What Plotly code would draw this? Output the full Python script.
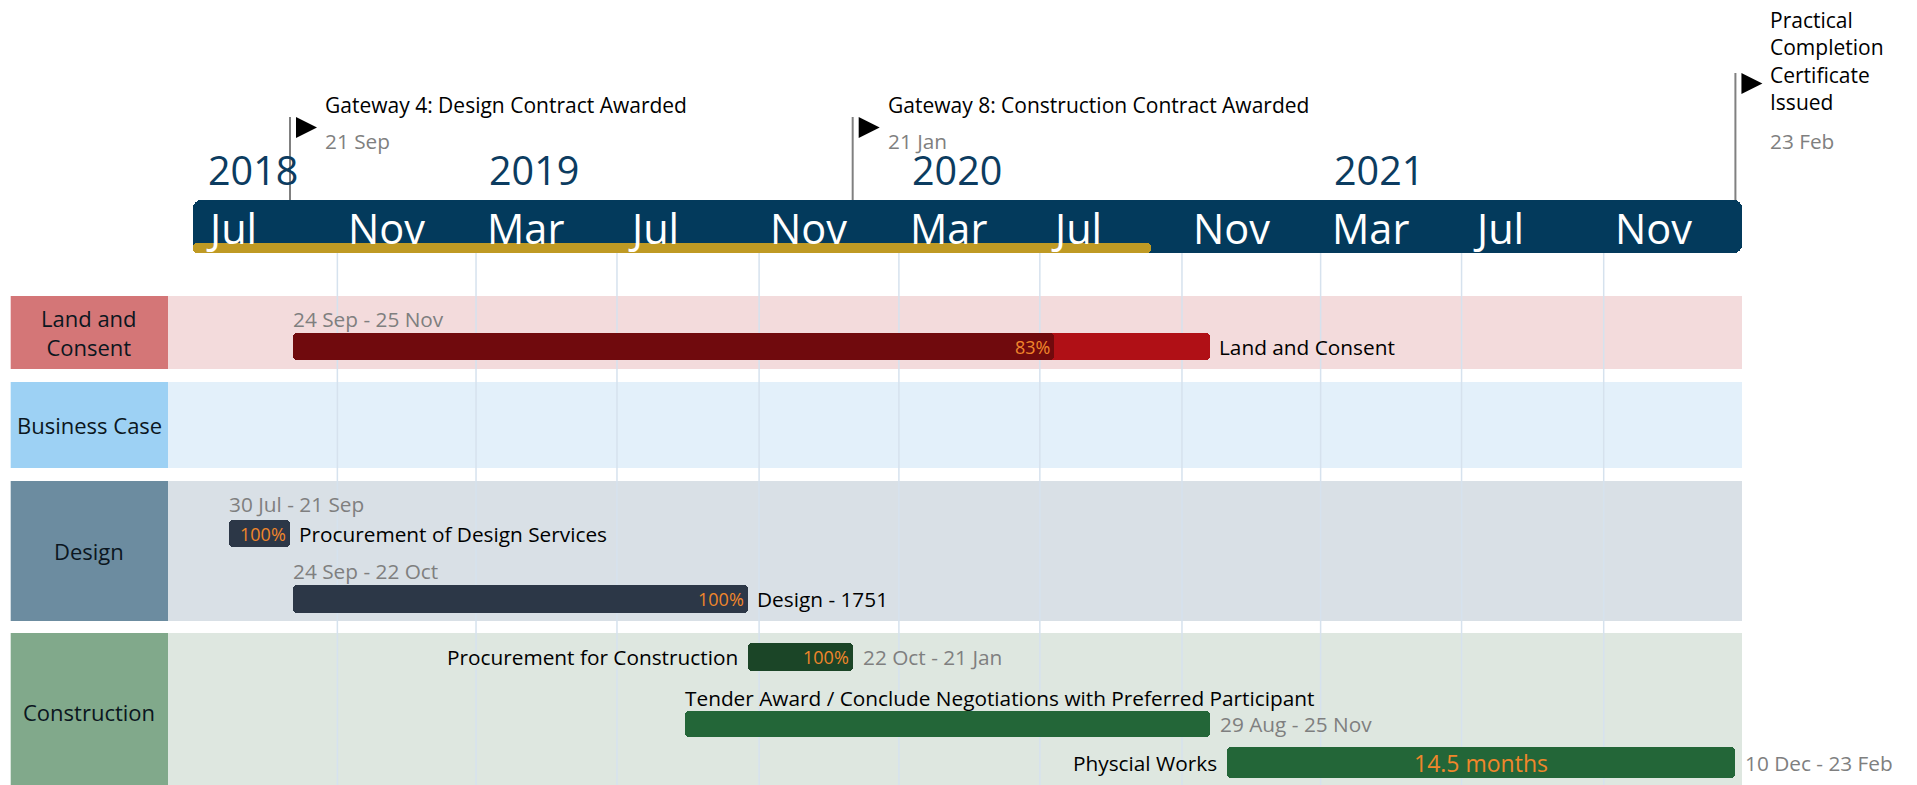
import pandas as pd
import plotly.graph_objects as go

# ---------------- data ----------------
lane_names = ["Land and Consent", "Business Case", "Design", "Construction"]
lane_labels = ["Land and<br>Consent", "Business Case", "Design", "Construction"]

task_names = [
    "Land and Consent",
    "Procurement of Design Services",
    "Design - 1751",
    "Procurement for Construction",
    "Tender Award / Conclude Negotiations with Preferred Participant",
    "Physcial Works",
]
task_lanes = ["Land and Consent", "Design", "Design", "Construction", "Construction", "Construction"]
task_starts = ["2018-09-24", "2018-07-30", "2018-09-24", "2019-10-22", "2019-08-29", "2020-12-10"]
task_ends = ["2020-11-25", "2018-09-21", "2019-10-22", "2020-01-21", "2020-11-25", "2022-02-23"]
task_progress = [0.83, 1.0, 1.0, 1.0, None, None]

milestone_names = [
    "Gateway 4: Design Contract Awarded",
    "Gateway 8: Construction Contract Awarded",
    "Practical<br>Completion<br>Certificate<br>Issued",
]
milestone_dates = ["2018-09-21", "2020-01-21", "2022-02-23"]

timeline_start = "2018-06-29"
timeline_end = "2022-03-01"
status_date = "2020-10-05"
month_ticks = ["2018-07-01", "2018-11-01", "2019-03-01", "2019-07-01", "2019-11-01", "2020-03-01",
               "2020-07-01", "2020-11-01", "2021-03-01", "2021-07-01", "2021-11-01"]

# ---------------- styles / layout ----------------
W, H = 1917, 785
FONT = "Open Sans, Roboto, Arial, sans-serif"
NAVY = "#033a5c"
GOLD = "#bf9a24"
GRAY = "#7f7f7f"
ORANGE = "#f0862b"
GRID = "#d6e2ee"
TXT = 20.8

lane_style = {
    "Land and Consent": dict(top=296, bot=369, box="#d47677", bg="#f3dbdc"),
    "Business Case": dict(top=382, bot=468, box="#9dd1f4", bg="#e3f0fa"),
    "Design": dict(top=481, bot=621, box="#6c8ca0", bg="#d9e0e6"),
    "Construction": dict(top=633, bot=800, box="#81a98b", bg="#dee7e0", label_y=712),
}
LABEL_X0, LABEL_X1, LANE_X1 = 10.7, 168, 1742

# per-task placement: bar centre / height, where the date and name text go
task_style = [
    dict(yc=346.5, h=27, color="#b01016", done="#700a0d", date="above", date_y=319, name="right"),
    dict(yc=533.5, h=27, color="#2c3747", done="#2c3747", date="above", date_y=504, name="right"),
    dict(yc=599, h=28, color="#2c3747", done="#2c3747", date="above", date_y=571, name="right"),
    dict(yc=657, h=28, color="#1b4527", done="#1b4527", date="right", name="left"),
    dict(yc=724, h=26, color="#236638", done=None, date="right", name="above", name_y=698),
    dict(yc=762.5, h=31, color="#236638", done=None, date="right", name="left", duration=True),
]
milestone_style = [
    dict(top=117, flag_y=127.5, text_y=105, date_y=141),
    dict(top=117, flag_y=127.5, text_y=105, date_y=141),
    dict(top=73, flag_y=83.5, text_y=61, date_y=141),
]

# pixel calibration of the date axis (from the gateway markers)
REF_DATE, REF_PX, PX_PER_DAY = pd.Timestamp("2018-09-21"), 290.0, 1.1554
x_lo = REF_DATE + pd.Timedelta(days=(0 - REF_PX) / PX_PER_DAY)
x_hi = REF_DATE + pd.Timedelta(days=(W - REF_PX) / PX_PER_DAY)


def ts(d):
    return pd.Timestamp(d).strftime("%Y-%m-%d %H:%M:%S")


def fmt(d):
    d = pd.Timestamp(d)
    return f"{d.day} {d.strftime('%b')}"


fig = go.Figure()


def add_bar(start, end, yc, h, color, left=True, right=True, r=4):
    s, e = pd.Timestamp(start), pd.Timestamp(end)
    dur = (e - s).total_seconds() * 1000
    common = dict(orientation="h", y=[yc], width=[h], hoverinfo="skip", showlegend=False,
                  marker=dict(color=color, cornerradius=r, line=dict(width=0)))
    if right:
        fig.add_trace(go.Bar(base=[ts(s)], x=[dur], **common))
    if left:
        fig.add_trace(go.Bar(base=[ts(e)], x=[-dur], **common))


shapes, annos = [], []

# lanes
for name, lab in zip(lane_names, lane_labels):
    st = lane_style[name]
    shapes.append(dict(type="rect", xref="paper", yref="y", x0=LABEL_X1 / W, x1=LANE_X1 / W,
                       y0=st["top"], y1=st["bot"], fillcolor=st["bg"], line_width=0, layer="below"))
    shapes.append(dict(type="rect", xref="paper", yref="y", x0=LABEL_X0 / W, x1=LABEL_X1 / W,
                       y0=st["top"], y1=st["bot"], fillcolor=st["box"], line_width=0, layer="below"))
    annos.append(dict(xref="paper", yref="y", x=(LABEL_X0 + LABEL_X1) / 2 / W,
                      y=st.get("label_y", (st["top"] + st["bot"]) / 2), text=lab, showarrow=False,
                      xanchor="center", yanchor="middle", font=dict(size=22, color="#0b1620")))

# gridlines (every 4 months, below header)
for d in month_ticks[1:]:
    shapes.append(dict(type="line", xref="x", yref="y", x0=d, x1=d, y0=253, y1=H,
                       line=dict(color=GRID, width=1.5), layer="below"))

# header band
add_bar(timeline_start, timeline_end, 226.5, 53, NAVY, r=8)
add_bar(timeline_start, status_date, 248, 10, GOLD, left=True, right=False, r=4)

# month labels and year labels
seen_years = set()
for d in month_ticks:
    t = pd.Timestamp(d)
    annos.append(dict(xref="x", yref="y", x=d, y=228, text=t.strftime("%b"), showarrow=False,
                      xanchor="left", yanchor="middle", xshift=9, font=dict(size=41.5, color="white")))
    if t.year not in seen_years:
        seen_years.add(t.year)
        annos.append(dict(xref="x", yref="y", x=d, y=170, text=str(t.year), showarrow=False,
                          xanchor="left", yanchor="middle", xshift=11, font=dict(size=39.5, color="#0c3c60")))

# milestones
for name, d, st in zip(milestone_names, milestone_dates, milestone_style):
    shapes.append(dict(type="line", xref="x", yref="y", x0=d, x1=d, y0=st["top"], y1=200,
                       line=dict(color="#808080", width=2), layer="above"))
    shapes.append(dict(type="path", xref="x", yref="y", xsizemode="pixel", ysizemode="pixel",
                       xanchor=d, yanchor=st["flag_y"], path="M 6 10.5 L 27 0 L 6 -10.5 Z",
                       fillcolor="black", line_width=0, layer="above"))
    annos.append(dict(xref="x", yref="y", x=d, y=st["text_y"], text=name, showarrow=False,
                      xanchor="left", yanchor="middle", xshift=33, align="left",
                      font=dict(size=21, color="black")))
    annos.append(dict(xref="x", yref="y", x=d, y=st["date_y"], text=fmt(d), showarrow=False,
                      xanchor="left", yanchor="middle", xshift=33, font=dict(size=TXT, color=GRAY)))

# tasks
for name, s, e, p, st in zip(task_names, task_starts, task_ends, task_progress, task_style):
    S, E = pd.Timestamp(s), pd.Timestamp(e)
    add_bar(S, E, st["yc"], st["h"], st["color"])
    if p is not None and p < 1:
        P = S + (E - S) * p
        add_bar(S, P, st["yc"], st["h"], st["done"], left=True, right=False)
    if p is not None:
        P = S + (E - S) * p
        annos.append(dict(xref="x", yref="y", x=ts(P), y=st["yc"], text=f"{round(p * 100)}%",
                          showarrow=False, xanchor="right", yanchor="middle", xshift=-2,
                          font=dict(size=18, color=ORANGE)))
    dtxt = f"{fmt(S)} - {fmt(E)}"
    if st["date"] == "above":
        annos.append(dict(xref="x", yref="y", x=ts(S), y=st["date_y"], text=dtxt, showarrow=False,
                          xanchor="left", yanchor="middle", xshift=-2, font=dict(size=TXT, color=GRAY)))
    else:
        annos.append(dict(xref="x", yref="y", x=ts(E), y=st["yc"], text=dtxt, showarrow=False,
                          xanchor="left", yanchor="middle", xshift=8, font=dict(size=TXT, color=GRAY)))
    if st["name"] == "right":
        annos.append(dict(xref="x", yref="y", x=ts(E), y=st["yc"], text=name, showarrow=False,
                          xanchor="left", yanchor="middle", xshift=7, font=dict(size=TXT, color="black")))
    elif st["name"] == "left":
        annos.append(dict(xref="x", yref="y", x=ts(S), y=st["yc"], text=name, showarrow=False,
                          xanchor="right", yanchor="middle", xshift=-8, font=dict(size=TXT, color="black")))
    else:
        annos.append(dict(xref="x", yref="y", x=ts(S), y=st["name_y"], text=name, showarrow=False,
                          xanchor="left", yanchor="middle", xshift=-2, font=dict(size=TXT, color="black")))
    if st.get("duration"):
        months = (E - S).days / 30.4375
        annos.append(dict(xref="x", yref="y", x=ts(S + (E - S) / 2), y=st["yc"],
                          text=f"{months:.1f} months", showarrow=False, xanchor="center",
                          yanchor="middle", font=dict(size=23, color=ORANGE)))

fig.update_layout(
    width=W, height=H, autosize=False,
    margin=dict(l=0, r=0, t=0, b=0, pad=0),
    paper_bgcolor="white", plot_bgcolor="white",
    barmode="overlay", bargap=0,
    font=dict(family=FONT),
    shapes=shapes, annotations=annos, showlegend=False,
    xaxis=dict(type="date", range=[ts(x_lo), ts(x_hi)], domain=[0, 1], visible=False,
               showgrid=False, zeroline=False, fixedrange=True),
    yaxis=dict(range=[H, 0], domain=[0, 1], visible=False, showgrid=False, zeroline=False,
               fixedrange=True),
)

fig.write_html("out.html", config={"displayModeBar": False},
               post_script="document.body.style.margin='0px';")
